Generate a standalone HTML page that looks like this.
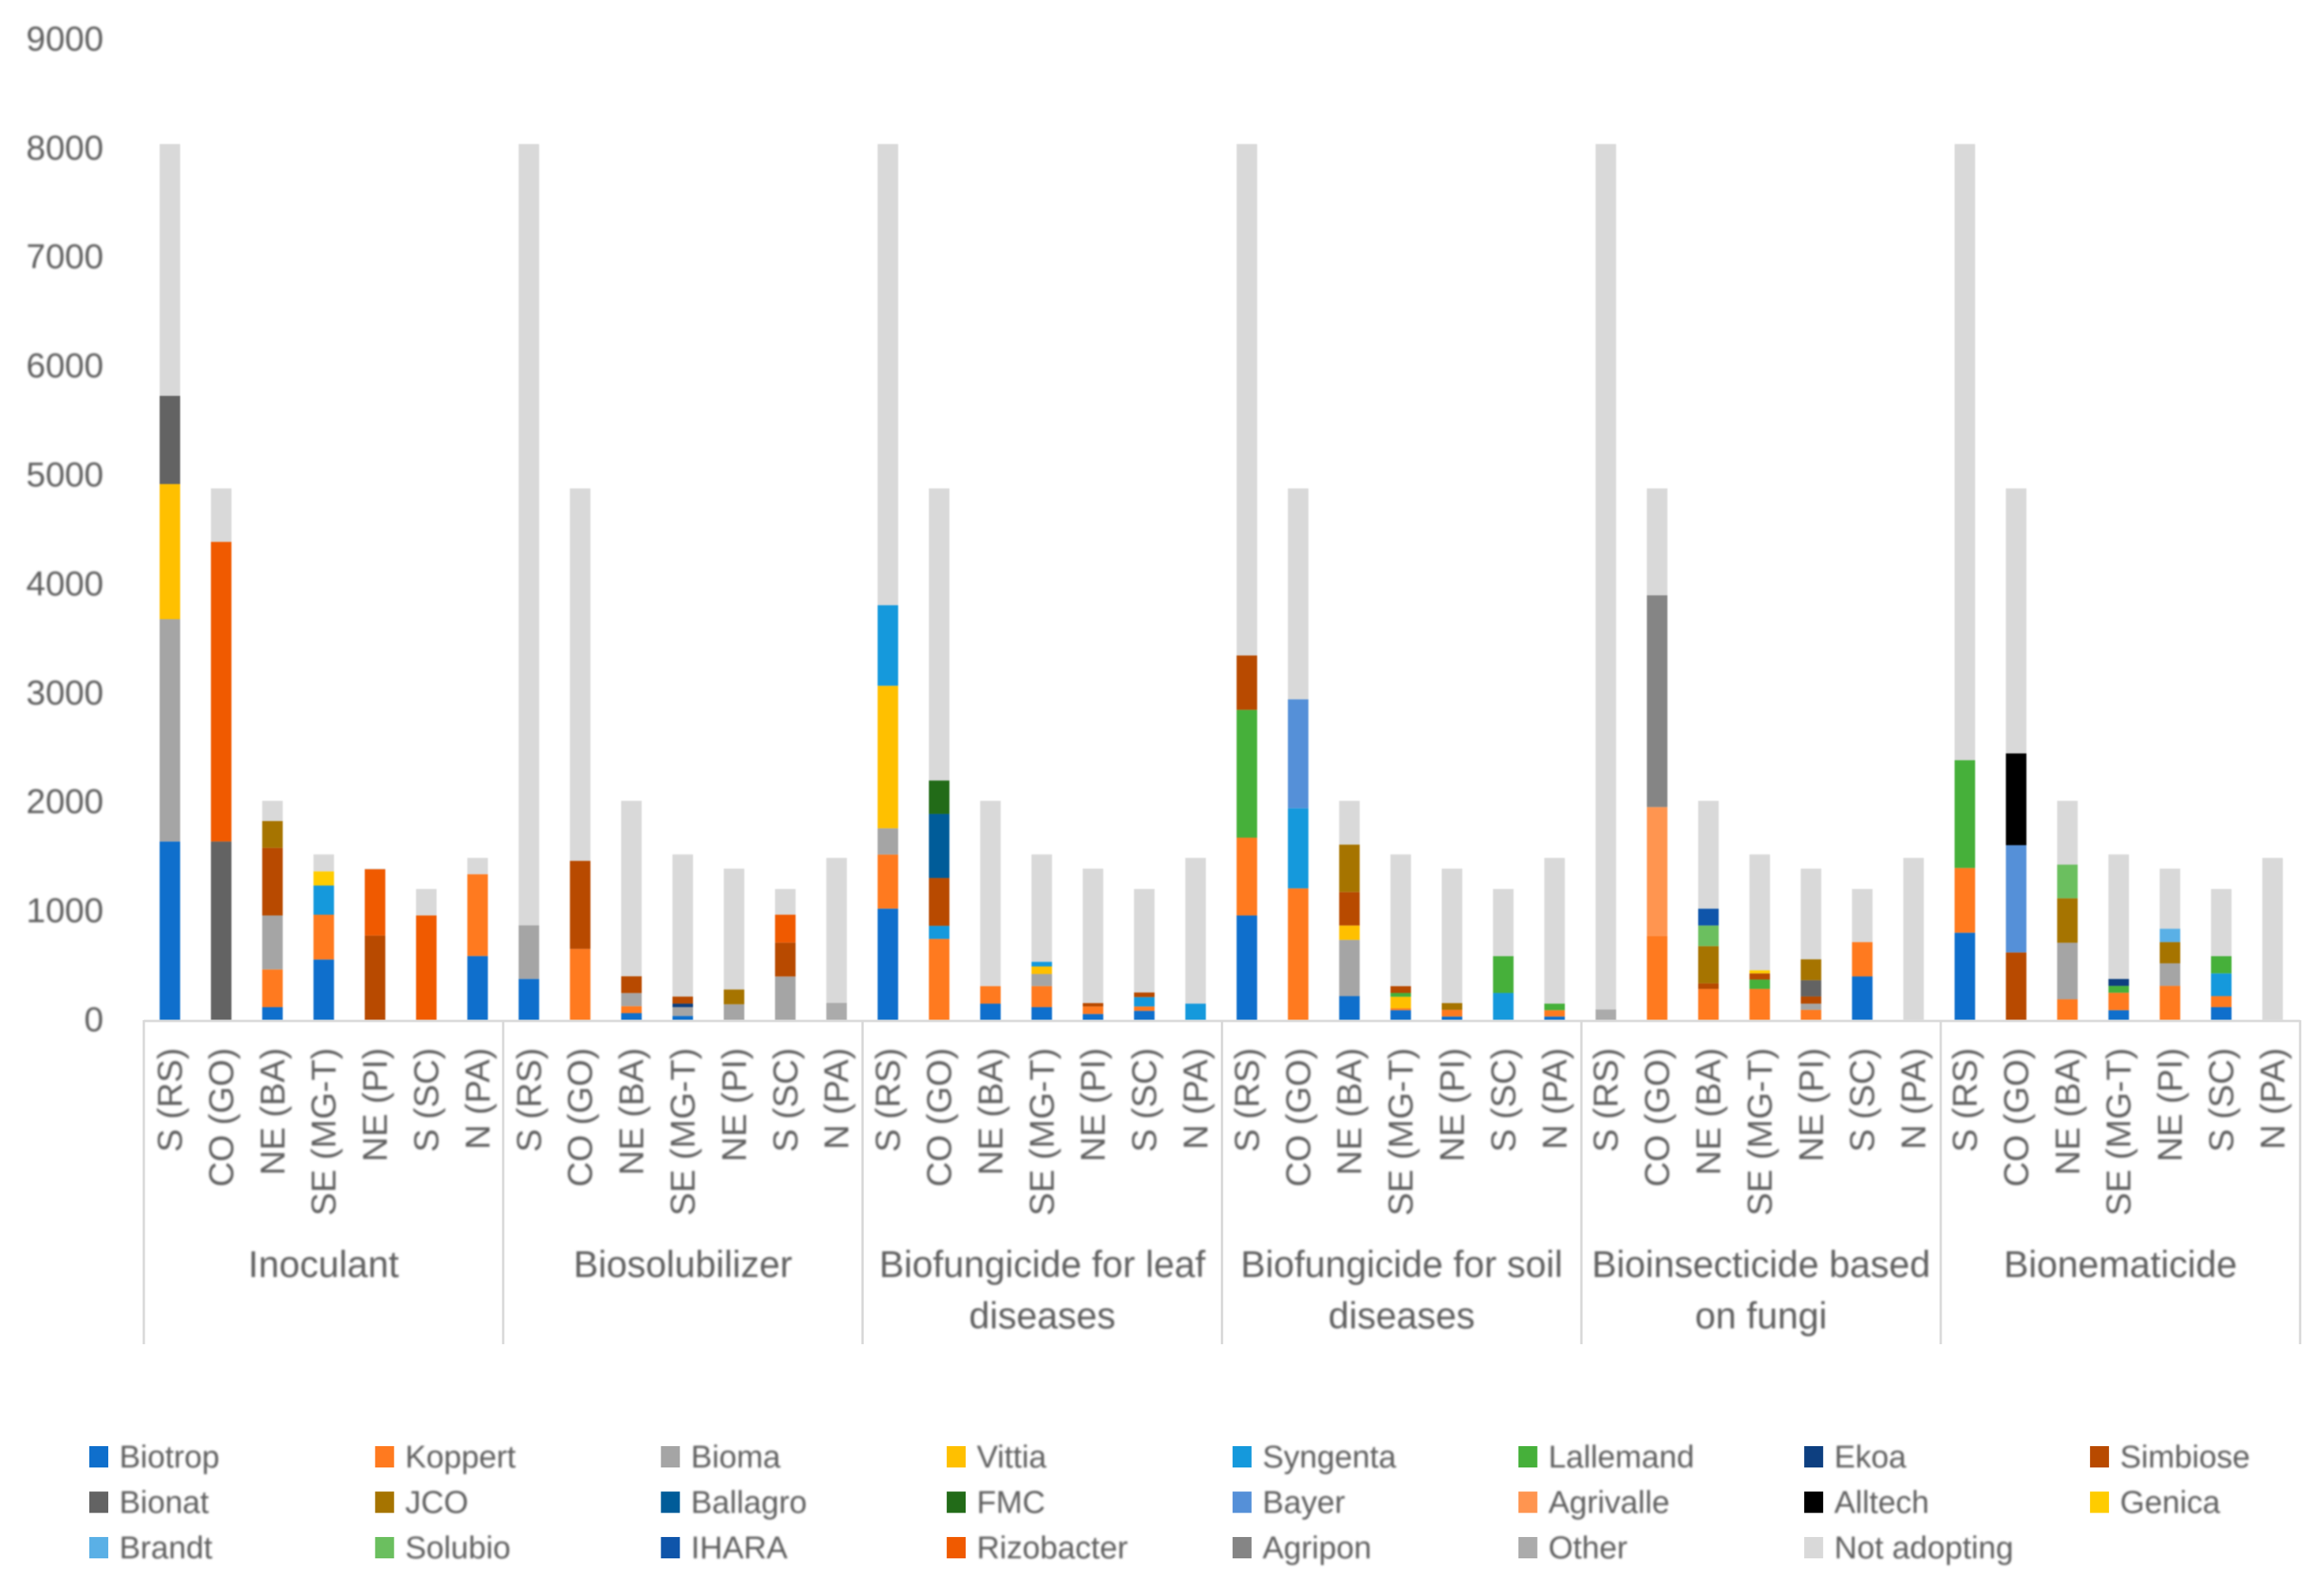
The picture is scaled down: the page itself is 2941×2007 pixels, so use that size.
<!DOCTYPE html>
<html lang="en">
<head>
<meta charset="utf-8">
<title>Bioinput adoption by company, region and product type</title>
<style>
html,body{margin:0;padding:0;background:#fff;width:2941px;height:2007px;overflow:hidden}
svg{display:block;font-family:"Liberation Sans",sans-serif}
#marks{filter:blur(0.8px)}
#labels{filter:blur(1.3px)}
</style>
</head>
<body>
<svg id="chart" xmlns="http://www.w3.org/2000/svg" width="2941" height="2007" viewBox="0 0 2941 2007">
<rect width="2941" height="2007" fill="#ffffff"/>
<g id="marks"></g>
<g id="axes"></g>
<g id="labels"></g>
<g id="legend"></g>
</svg>
<script>
const yTicks = [0,1000,2000,3000,4000,5000,6000,7000,8000,9000];
const regions = ["S (RS)","CO (GO)","NE (BA)","SE (MG-T)","NE (PI)","S (SC)","N (PA)"];
const groups = [["Inoculant"],["Biosolubilizer"],["Biofungicide for leaf","diseases"],["Biofungicide for soil","diseases"],["Bioinsecticide based","on fungi"],["Bionematicide"]];
const seriesNames = ["Biotrop","Koppert","Bioma","Vittia","Syngenta","Lallemand","Ekoa","Simbiose","Bionat","JCO","Ballagro","FMC","Bayer","Agrivalle","Alltech","Genica","Brandt","Solubio","IHARA","Rizobacter","Agripon","Other","Not adopting"];
const seriesColors = ["#0F6FCC","#FF7A1F","#A5A5A5","#FFC000","#1599DC","#46B03A","#0D3F80","#B84A00","#636363","#A67400","#005C99","#226B18","#5590D8","#FF9550","#000000","#FFCC00","#5AB0E6","#6BBF5F","#0F55AA","#F05A00","#858585","#ABABAB","#D9D9D9"];

const biotrop = [1640,0,120,557,0,0,589, 379,0,65,39,0,0,0, 1024,0,152,120,57,86,0, 961,0,221,92,34,0,34, 0,0,0,0,0,402,0, 803,0,0,92,0,120,0];
const koppert = [0,0,346,411,0,0,751, 0,654,64,0,0,0,0, 496,746,161,193,69,40,0, 714,1210,0,17,61,0,58, 0,774,287,287,95,315,0, 594,0,192,160,315,101,0];
const bioma = [2040,0,495,0,0,0,0, 491,0,120,81,146,401,0, 241,0,0,111,0,0,0, 0,0,516,0,0,0,0, 0,0,0,0,57,0,0, 0,0,519,0,207,0,0];
const vittia = [1240,0,0,0,0,0,0, 0,0,0,0,0,0,0, 1308,0,0,69,0,0,0, 0,0,132,106,0,0,0, 0,0,0,0,0,0,0, 0,0,0,0,0,0,0];
const syngenta = [0,0,0,268,0,0,0, 0,0,0,0,0,0,0, 740,120,0,43,0,86,152, 0,735,0,0,0,250,0, 0,0,0,0,0,0,0, 0,0,0,0,0,209,0];
const lallemand = [0,0,0,0,0,0,0, 0,0,0,0,0,0,0, 0,0,0,0,0,0,0, 1173,0,0,35,0,338,60, 0,0,0,86,0,0,0, 989,0,0,63,0,158,0];
const ekoa = [0,0,0,0,0,0,0, 0,0,0,32,0,0,0, 0,0,0,0,0,0,0, 0,0,0,0,0,0,0, 0,0,0,0,0,0,0, 0,0,0,64,0,0,0];
const simbiose = [0,0,621,0,777,0,0, 0,809,155,65,0,311,0, 0,439,0,0,32,43,0, 499,0,307,63,0,0,0, 0,0,51,57,66,0,0, 0,622,0,0,0,0,0];
const bionat = [810,1640,0,0,0,0,0, 0,0,0,0,0,0,0, 0,0,0,0,0,0,0, 0,0,0,0,0,0,0, 0,0,0,0,149,0,0, 0,0,0,0,0,0,0];
const jco = [0,0,246,0,0,0,0, 0,0,0,0,136,0,0, 0,0,0,0,0,0,0, 0,0,436,0,63,0,0, 0,0,342,0,192,0,0, 0,0,408,0,195,0,0];
const ballagro = [0,0,0,0,0,0,0, 0,0,0,0,0,0,0, 0,588,0,0,0,0,0, 0,0,0,0,0,0,0, 0,0,0,0,0,0,0, 0,0,0,0,0,0,0];
const fmc = [0,0,0,0,0,0,0, 0,0,0,0,0,0,0, 0,307,0,0,0,0,0, 0,0,0,0,0,0,0, 0,0,0,0,0,0,0, 0,0,0,0,0,0,0];
const bayer = [0,0,0,0,0,0,0, 0,0,0,0,0,0,0, 0,0,0,0,0,0,0, 0,1000,0,0,0,0,0, 0,0,0,0,0,0,0, 0,984,0,0,0,0,0];
const agrivalle = [0,0,0,0,0,0,0, 0,0,0,0,0,0,0, 0,0,0,0,0,0,0, 0,0,0,0,0,0,0, 0,1182,0,0,0,0,0, 0,0,0,0,0,0,0];
const alltech = [0,0,0,0,0,0,0, 0,0,0,0,0,0,0, 0,0,0,0,0,0,0, 0,0,0,0,0,0,0, 0,0,0,0,0,0,0, 0,843,0,0,0,0,0];
const genica = [0,0,0,130,0,0,0, 0,0,0,0,0,0,0, 0,0,0,0,0,0,0, 0,0,0,0,0,0,0, 0,0,0,29,0,0,0, 0,0,0,0,0,0,0];
const brandt = [0,0,0,0,0,0,0, 0,0,0,0,0,0,0, 0,0,0,0,0,0,0, 0,0,0,0,0,0,0, 0,0,0,0,0,0,0, 0,0,0,0,123,0,0];
const solubio = [0,0,0,0,0,0,0, 0,0,0,0,0,0,0, 0,0,0,0,0,0,0, 0,0,0,0,0,0,0, 0,0,189,0,0,0,0, 0,0,309,0,0,0,0];
const ihara = [0,0,0,0,0,0,0, 0,0,0,0,0,0,0, 0,0,0,0,0,0,0, 0,0,0,0,0,0,0, 0,0,155,0,0,0,0, 0,0,0,0,0,0,0];
const rizobacter = [0,2750,0,0,608,961,0, 0,0,0,0,0,256,0, 0,0,0,0,0,0,0, 0,0,0,0,0,0,0, 0,0,0,0,0,0,0, 0,0,0,0,0,0,0];
const agripon = [0,0,0,0,0,0,0, 0,0,0,0,0,0,0, 0,0,0,0,0,0,0, 0,0,0,0,0,0,0, 0,1944,0,0,0,0,0, 0,0,0,0,0,0,0];
const other = [0,0,0,0,0,0,0, 0,0,0,0,0,0,159, 0,0,0,0,0,0,0, 0,0,0,0,0,0,0, 98,0,0,0,0,0,0, 0,0,0,0,0,0,0];
const notAdopting = [2310,490,185,155,6,243,149, 7170,3417,1609,1304,1109,236,1330, 4231,2680,1700,985,1233,949,1337, 4693,1935,401,1208,1233,616,1337, 7942,980,989,1062,832,487,1489, 5654,2431,585,1142,551,616,1489];

const seriesValues = [biotrop,koppert,bioma,vittia,syngenta,lallemand,ekoa,simbiose,bionat,jco,ballagro,fmc,bayer,agrivalle,alltech,genica,brandt,solubio,ihara,rizobacter,agripon,other,notAdopting];

const NS = "http://www.w3.org/2000/svg";
const BASE_Y = 1291, PX_PER_UNIT = 0.1379;
const FIRST_X = 215, STEP_X = 64.9, BAR_W = 26;
const AXIS_LEFT = 182, GROUP_W = 454.8, AXIS_BOTTOM = 1701;
const TEXT = "#5f5f5f";

function yScale(v){ return BASE_Y - v * PX_PER_UNIT; }
function xScale(i){ return FIRST_X + i * STEP_X; }
function groupEdge(g){ return AXIS_LEFT + g * GROUP_W; }
function legendX(c){ return 113 + c * 361.7; }
function legendY(r){ return 1843 + r * 57.5; }

function make(tag, attrs, parent, content){
  const el = document.createElementNS(NS, tag);
  for (const k in attrs) el.setAttribute(k, attrs[k]);
  if (content !== undefined) el.textContent = content;
  parent.appendChild(el);
  return el;
}

const marks = document.getElementById("marks");
const axes = document.getElementById("axes");
const labels = document.getElementById("labels");
const legend = document.getElementById("legend");

/* stacked bars */
const barCount = regions.length * groups.length;
for (let i = 0; i < barCount; i++) {
  let running = 0;
  for (let s = 0; s < seriesValues.length; s++) {
    const v = seriesValues[s][i];
    if (!v) continue;
    const top = yScale(running + v);
    const r = make("rect", {x: xScale(i) - BAR_W / 2, y: top, width: BAR_W, height: yScale(running) - top, fill: seriesColors[s]}, marks);
    
    
    running += v;
  }
}

/* x axis line and group separators */
const axisLine = make("line", {x1: AXIS_LEFT, x2: groupEdge(groups.length), y1: BASE_Y + 1, y2: BASE_Y + 1, stroke: "#D9D9D9", "stroke-width": 3}, axes);


for (let g = 0; g <= groups.length; g++) {
  const sep = make("line", {x1: groupEdge(g), x2: groupEdge(g), y1: BASE_Y, y2: AXIS_BOTTOM, stroke: "#D9D9D9", "stroke-width": 3}, axes);
  
  
}

/* y tick labels */
yTicks.forEach(function(t){
  const el = make("text", {x: 131, y: yScale(t) + 14, "text-anchor": "end", "font-size": 44, fill: TEXT}, labels, String(t));
  
  
});

/* region labels */
for (let i = 0; i < barCount; i++) {
  const name = regions[i % regions.length];
  const px = xScale(i) + 15;
  const el = make("text", {x: px, y: 1326, "text-anchor": "end", "font-size": 44, fill: TEXT, transform: "rotate(-90 " + px + " 1326)"}, labels, name);
  
  
}

/* group labels */
groups.forEach(function(lines, g){
  const cx = groupEdge(g) + GROUP_W / 2;
  lines.forEach(function(line, n){
    const el = make("text", {x: cx, y: 1616 + n * 65, "text-anchor": "middle", "font-size": 47, fill: TEXT}, labels, line);
    
    
  });
});

/* legend */
seriesNames.forEach(function(name, s){
  const c = s % 8, r = Math.floor(s / 8);
  const entry = make("g", {}, legend);
  
  
  const sw = make("rect", {x: legendX(c), y: legendY(r) - 13, width: 24, height: 27, fill: seriesColors[s]}, entry);
  
  
  const t = make("text", {x: legendX(c) + 38, y: legendY(r) + 14, "font-size": 40, fill: TEXT, style: "filter:blur(1.3px)"}, entry, name);
  
  
});
</script>
</body>
</html>
